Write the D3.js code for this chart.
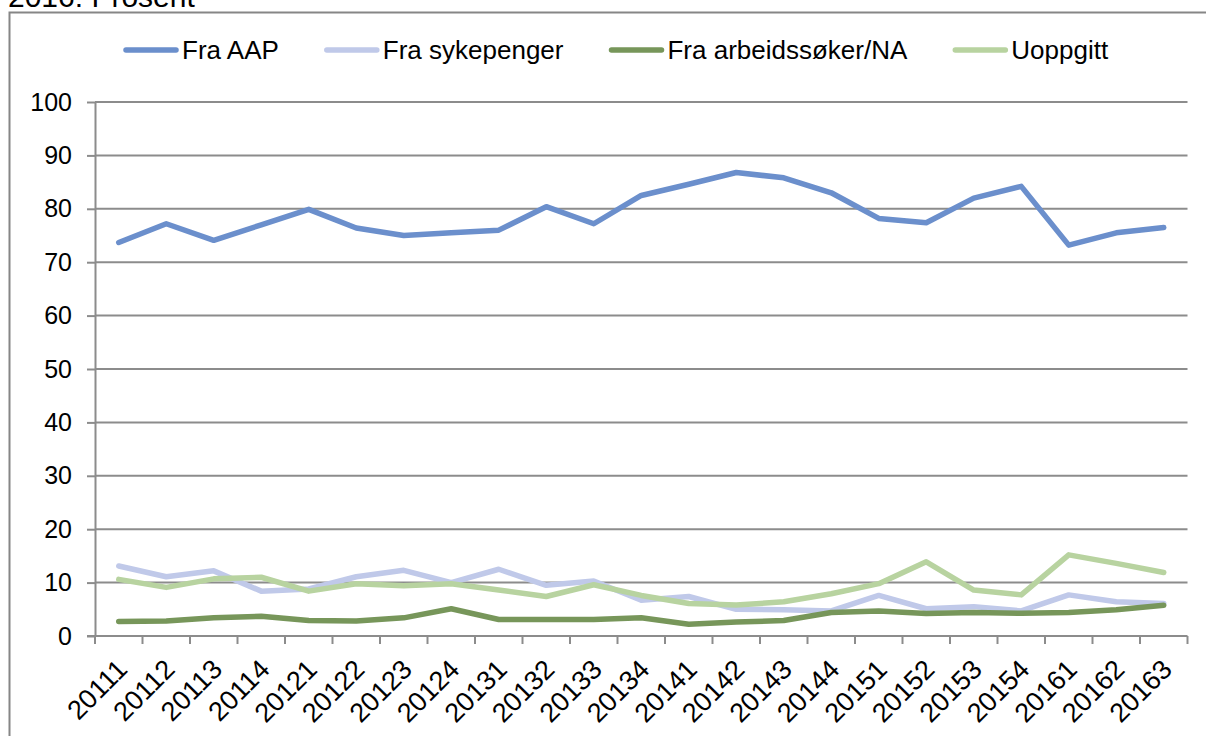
<!DOCTYPE html>
<html>
<head>
<meta charset="utf-8">
<script src="https://cdn.jsdelivr.net/npm/d3@7"></script>
<style>
  body { margin: 0; background: #fff; }
  svg text { font-family: "Liberation Sans", Arial, sans-serif; fill: #000; }
</style>
</head>
<body>
<div id="chart"></div>
<script>
// periods (year + quarter)
var periods = ["20111","20112","20113","20114","20121","20122","20123","20124",
  "20131","20132","20133","20134","20141","20142","20143","20144",
  "20151","20152","20153","20154","20161","20162","20163"];

var fraAAP = [73.7,77.2,74.1,77.0,79.9,76.4,75.0,75.5,76.0,80.4,77.2,82.5,
  84.6,86.8,85.8,83.0,78.2,77.4,82.0,84.2,73.2,75.5,76.5];
var fraSykepenger = [13.1,11.1,12.2,8.4,8.8,11.1,12.3,10.0,12.5,9.5,10.3,6.7,
  7.4,5.0,4.9,4.7,7.6,5.1,5.5,4.7,7.7,6.4,6.1];
var fraArbeidssoker = [2.7,2.8,3.4,3.7,2.9,2.8,3.4,5.1,3.1,3.1,3.1,3.4,
  2.2,2.6,2.9,4.4,4.7,4.2,4.4,4.25,4.4,4.9,5.75];
var uoppgitt = [10.6,9.1,10.7,11.0,8.4,9.8,9.4,9.8,8.6,7.4,9.6,7.6,
  6.1,5.8,6.4,7.9,9.8,13.9,8.6,7.7,15.2,13.6,11.9];

var yTicks = [0,10,20,30,40,50,60,70,80,90,100];

var series = [
  { name: "Fra AAP", values: fraAAP, color: "#6b8fcc" },
  { name: "Fra sykepenger", values: fraSykepenger, color: "#c0c9e9" },
  { name: "Fra arbeidssøker/NA", values: fraArbeidssoker, color: "#77965a" },
  { name: "Uoppgitt", values: uoppgitt, color: "#b8d3a0" }
];

(function drawChart() {
  var w = 1206, h = 736;
  var plotLeft = 95, plotRight = 1187.5, plotTop = 102, plotBottom = 636;
  var gridColor = "#8c8c8c";

  var svg = d3.select("#chart").append("svg")
    .attr("width", w)
    .attr("height", h);

  // title, cut at the top
  svg.append("text")
    .attr("x", 8)
    .attr("y", 7)
    .attr("font-size", 30)
    .text("2016: Prosent");

  // chart area border
  svg.append("rect")
    .attr("x", 9.5)
    .attr("y", 12.5)
    .attr("width", 1300)
    .attr("height", 900)
    .attr("fill", "none")
    .attr("stroke", "#868686")
    .attr("stroke-width", 2);

  var x = d3.scaleBand().domain(periods).range([plotLeft, plotRight]);
  var y = d3.scaleLinear().domain([0, 100]).range([plotBottom, plotTop]);

  // horizontal gridlines
  svg.append("g")
    .selectAll("line")
    .data(yTicks.filter(d => d > 0))
    .enter()
    .append("line")
    .attr("x1", plotLeft)
    .attr("x2", plotRight)
    .attr("y1", d => y(d))
    .attr("y2", d => y(d))
    .attr("stroke", gridColor)
    .attr("stroke-width", 2);

  // y axis
  var yAxis = d3.axisLeft(y).tickValues(yTicks).tickSize(8).tickPadding(15).tickSizeOuter(0);
  var gy = svg.append("g")
    .attr("transform", "translate(" + plotLeft + ",0)")
    .call(yAxis);
  gy.select(".domain").attr("stroke", gridColor).attr("stroke-width", 2);
  gy.selectAll(".tick line").attr("stroke", gridColor).attr("stroke-width", 2);
  gy.selectAll(".tick text")
    .attr("font-size", 25)
    .attr("font-family", "Liberation Sans, Arial, sans-serif")
    .attr("fill", "#000");

  // x axis: line, boundary ticks, rotated labels
  var gx = svg.append("g");
  gx.append("line")
    .attr("x1", plotLeft - 8)
    .attr("x2", plotRight)
    .attr("y1", plotBottom)
    .attr("y2", plotBottom)
    .attr("stroke", gridColor)
    .attr("stroke-width", 2);
  gx.selectAll("line.tick")
    .data(periods.map(p => x(p)).concat([plotRight]))
    .enter()
    .append("line")
    .attr("class", "tick")
    .attr("x1", d => d)
    .attr("x2", d => d)
    .attr("y1", plotBottom)
    .attr("y2", plotBottom + 8)
    .attr("stroke", gridColor)
    .attr("stroke-width", 2);
  gx.selectAll("text")
    .data(periods)
    .enter()
    .append("text")
    .attr("text-anchor", "end")
    .attr("font-size", 27)
    .attr("transform", d => "translate(" + (x(d) + x.bandwidth() / 2 + 10) + "," + (plotBottom + 35) + ") rotate(-45)")
    .text(d => d);

  // lines
  var line = d3.line()
    .x((d, i) => x(periods[i]) + x.bandwidth() / 2)
    .y(d => y(d));

  svg.append("g")
    .selectAll("path")
    .data(series)
    .enter()
    .append("path")
    .attr("d", d => line(d.values))
    .attr("fill", "none")
    .attr("stroke", d => d.color)
    .attr("stroke-width", 5.5)
    .attr("stroke-linejoin", "round")
    .attr("stroke-linecap", "round");

  // legend
  var legend = svg.append("g");
  var lx = 124;
  series.forEach(function(s) {
    legend.append("line")
      .attr("x1", lx + 2)
      .attr("x2", lx + 52)
      .attr("y1", 50)
      .attr("y2", 50)
      .attr("stroke", s.color)
      .attr("stroke-width", 5.5)
      .attr("stroke-linecap", "round");
    var t = legend.append("text")
      .attr("x", lx + 58)
      .attr("y", 59)
      .attr("font-size", 26)
      .text(s.name);
    lx += 58 + t.node().getComputedTextLength() + 46;
  });
})();
</script>
</body>
</html>
